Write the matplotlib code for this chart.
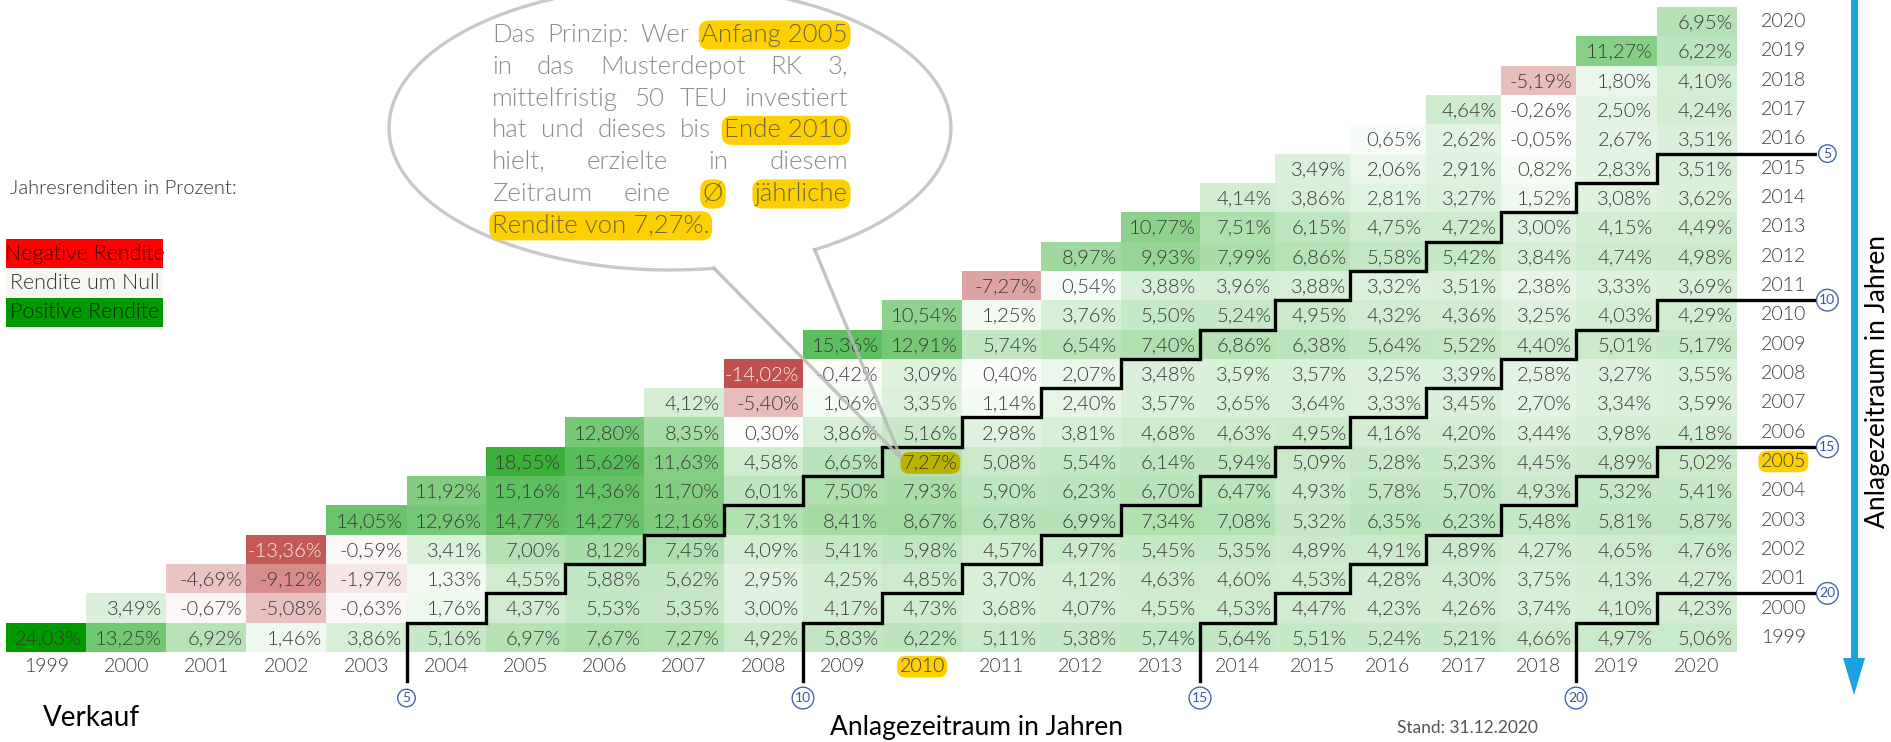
import numpy as np
import matplotlib
matplotlib.use("Agg")
import matplotlib.pyplot as plt
from matplotlib.patches import Rectangle, Polygon

plt.rcParams['font.family'] = ['Lato', 'DejaVu Sans']

# sell years (columns) and buy years (rows)
years = list(range(1999, 2021))

# average yearly return in %, one list per buy year, sell years buy..2020
ret_1999 = [24.03, 13.25, 6.92, 1.46, 3.86, 5.16, 6.97, 7.67, 7.27, 4.92, 5.83, 6.22, 5.11, 5.38, 5.74, 5.64, 5.51, 5.24, 5.21, 4.66, 4.97, 5.06]
ret_2000 = [3.49, -0.67, -5.08, -0.63, 1.76, 4.37, 5.53, 5.35, 3.00, 4.17, 4.73, 3.68, 4.07, 4.55, 4.53, 4.47, 4.23, 4.26, 3.74, 4.10, 4.23]
ret_2001 = [-4.69, -9.12, -1.97, 1.33, 4.55, 5.88, 5.62, 2.95, 4.25, 4.85, 3.70, 4.12, 4.63, 4.60, 4.53, 4.28, 4.30, 3.75, 4.13, 4.27]
ret_2002 = [-13.36, -0.59, 3.41, 7.00, 8.12, 7.45, 4.09, 5.41, 5.98, 4.57, 4.97, 5.45, 5.35, 4.89, 4.91, 4.89, 4.27, 4.65, 4.76]
ret_2003 = [14.05, 12.96, 14.77, 14.27, 12.16, 7.31, 8.41, 8.67, 6.78, 6.99, 7.34, 7.08, 5.32, 6.35, 6.23, 5.48, 5.81, 5.87]
ret_2004 = [11.92, 15.16, 14.36, 11.70, 6.01, 7.50, 7.93, 5.90, 6.23, 6.70, 6.47, 4.93, 5.78, 5.70, 4.93, 5.32, 5.41]
ret_2005 = [18.55, 15.62, 11.63, 4.58, 6.65, 7.27, 5.08, 5.54, 6.14, 5.94, 5.09, 5.28, 5.23, 4.45, 4.89, 5.02]
ret_2006 = [12.80, 8.35, 0.30, 3.86, 5.16, 2.98, 3.81, 4.68, 4.63, 4.95, 4.16, 4.20, 3.44, 3.98, 4.18]
ret_2007 = [4.12, -5.40, 1.06, 3.35, 1.14, 2.40, 3.57, 3.65, 3.64, 3.33, 3.45, 2.70, 3.34, 3.59]
ret_2008 = [-14.02, -0.42, 3.09, 0.40, 2.07, 3.48, 3.59, 3.57, 3.25, 3.39, 2.58, 3.27, 3.55]
ret_2009 = [15.36, 12.91, 5.74, 6.54, 7.40, 6.86, 6.38, 5.64, 5.52, 4.40, 5.01, 5.17]
ret_2010 = [10.54, 1.25, 3.76, 5.50, 5.24, 4.95, 4.32, 4.36, 3.25, 4.03, 4.29]
ret_2011 = [-7.27, 0.54, 3.88, 3.96, 3.88, 3.32, 3.51, 2.38, 3.33, 3.69]
ret_2012 = [8.97, 9.93, 7.99, 6.86, 5.58, 5.42, 3.84, 4.74, 4.98]
ret_2013 = [10.77, 7.51, 6.15, 4.75, 4.72, 3.00, 4.15, 4.49]
ret_2014 = [4.14, 3.86, 2.81, 3.27, 1.52, 3.08, 3.62]
ret_2015 = [3.49, 2.06, 2.91, 0.82, 2.83, 3.51]
ret_2016 = [0.65, 2.62, -0.05, 2.67, 3.51]
ret_2017 = [4.64, -0.26, 2.50, 4.24]
ret_2018 = [-5.19, 1.80, 4.10]
ret_2019 = [11.27, 6.22]
ret_2020 = [6.95]

rows = [ret_1999, ret_2000, ret_2001, ret_2002, ret_2003, ret_2004, ret_2005, ret_2006,
        ret_2007, ret_2008, ret_2009, ret_2010, ret_2011, ret_2012, ret_2013, ret_2014,
        ret_2015, ret_2016, ret_2017, ret_2018, ret_2019, ret_2020]

periods = [5, 10, 15, 20]
example_buy, example_sell = 2005, 2010

W, H = 1891, 742
fig = plt.figure(figsize=(W / 100, H / 100), dpi=100)
fig.patch.set_facecolor('white')

# grid axes in year units; the spreadsheet columns are not all equally wide
gx0, gx1, gy0, gy1 = 6, 1737, 7, 652
ax = fig.add_axes([gx0 / W, 1 - gy1 / H, (gx1 - gx0) / W, (gy1 - gy0) / H])
edge_yr = np.array([1994.5, 1998.5, 2003.5, 2008.5, 2013.5, 2018.5, 2020.5, 2024.5])
edge_px = np.array([-314.0, 6, 406.5, 803, 1200, 1576, 1737, 2057])


def fwd(x):
    return np.interp(x, edge_yr, edge_px)


def inv(p):
    return np.interp(p, edge_px, edge_yr)


ax.set_xscale('function', functions=(fwd, inv))
ax.set_xlim(years[0] - 0.5, years[-1] + 0.5)
ax.set_ylim(years[0] - 0.5, years[-1] + 0.5)
ax.axis('off')

vmax = max(max(r) for r in rows)
vmin = min(min(r) for r in rows)
white = np.array([255, 255, 255]) / 255
green = np.array([0, 153, 0]) / 255
red = np.array([192, 80, 77]) / 255


def cell_color(v):
    if v >= 0:
        f = v / vmax
        return white * (1 - f) + green * f
    f = v / vmin
    return white * (1 - f) + red * f


txt_col = '#383838'
for buy, vals in zip(years, rows):
    for k, v in enumerate(vals):
        sell = buy + k
        ax.add_patch(Rectangle((sell - 0.5, buy - 0.5), 1, 1, fc=cell_color(v), ec='none', lw=0))
        s = ('%.2f%%' % v).replace('.', ',')
        kw = {}
        if buy == example_buy and sell == example_sell:
            kw['bbox'] = dict(boxstyle='round,pad=0.12,rounding_size=0.45', fc='#b9b300', ec='none')
        ax.text(sell + 0.45, buy, s, ha='right', va='center_baseline', fontsize=14.5, fontweight=300,
                color='#f4f4f4' if v < -10 else txt_col, **kw)

# year labels
for y in years:
    kw = {}
    if y == example_sell:
        kw['bbox'] = dict(boxstyle='round,pad=0.12,rounding_size=0.45', fc='#ffd000', ec='none')
    ax.text(y, years[0] - 1.0, str(y), ha='center', va='center', fontsize=14, fontweight=300,
            color='#3c3c3c', clip_on=False, **kw)
for y in years:
    kw = {}
    if y == example_buy:
        kw['bbox'] = dict(boxstyle='round,pad=0.12,rounding_size=0.45', fc='#ffd000', ec='none')
    ax.text(years[-1] + 1.08, y, str(y), ha='center', va='center', fontsize=14, fontweight=300,
            color='#3c3c3c', clip_on=False, **kw)

# staircase lines for holding periods
circ = dict(boxstyle='circle,pad=0.2', fc='white', ec='#4565b0', lw=1.0)
for n in periods:
    xs = [years[0] + n - 0.5]
    ys = [years[0] - 1.5]
    for b in range(years[0], years[-1] - n + 1):
        xs += [b + n - 0.5, b + n + 0.5]
        ys += [b + 0.5, b + 0.5]
    xs[-1] = years[-1] + 1.48
    ax.plot(xs, ys, color='black', lw=2.4, clip_on=False, solid_joinstyle='miter')
    ax.text(years[0] + n - 0.5, years[0] - 2.07, str(n), ha='center', va='center', fontsize=10,
            color='#3a55a5', bbox=circ, clip_on=False)
    ax.text(years[-1] + 1.63, years[-1] - n + 0.5, str(n), ha='center', va='center', fontsize=10,
            color='#3a55a5', bbox=circ, clip_on=False)

# overlay in pixel units for the annotations
ov = fig.add_axes([0, 0, 1, 1])
ov.set_xlim(0, W)
ov.set_ylim(H, 0)
ov.axis('off')

# legend
ov.text(10, 189, 'Jahresrenditen in Prozent:', ha='left', va='center', fontsize=14.5, fontweight=300,
        color='#333333')
legend_items = [('Negative Rendite', '#ff0000', '#3a0000'),
                ('Rendite um Null', '#f4f8f1', '#333333'),
                ('Positive Rendite', '#009900', '#062806')]
for i, (lab, fc, tc) in enumerate(legend_items):
    top = 239 + i * 29.5
    ov.add_patch(Rectangle((6, top), 157, 28.5, fc=fc, ec='none'))
    ov.text(84.5, top + 14.5, lab, ha='center', va='center', fontsize=15.5, fontweight=300, color=tc)

# speech bubble
cx, cy, a, b = 670, 128, 281, 142
t = np.radians(np.linspace(-59, 279, 400))
ov.plot(cx + a * np.cos(t), cy - b * np.sin(t), color='#c8c8c8', lw=2.4)
base_l = (cx + a * np.cos(np.radians(279)), cy - b * np.sin(np.radians(279)))
base_r = (cx + a * np.cos(np.radians(-59)), cy - b * np.sin(np.radians(-59)))
tip = (901, 458)
ov.plot([base_l[0], tip[0], base_r[0]], [base_l[1], tip[1], base_r[1]], color='#b8b8b8', lw=2.4,
        alpha=0.85, solid_joinstyle='miter')

hl = dict(boxstyle='round,pad=0.1,rounding_size=0.4', fc='#ffd000', ec='none')
bubble_lines = [
    [('Das', 0), ('Prinzip:', 0), ('Wer', 0), ('Anfang 2005', 1)],
    [('in', 0), ('das', 0), ('Musterdepot', 0), ('RK', 0), ('3,', 0)],
    [('mittelfristig', 0), ('50', 0), ('TEU', 0), ('investiert', 0)],
    [('hat', 0), ('und', 0), ('dieses', 0), ('bis', 0), ('Ende 2010', 1)],
    [('hielt,', 0), ('erzielte', 0), ('in', 0), ('diesem', 0)],
    [('Zeitraum', 0), ('eine', 0), ('Ø', 1), ('jährliche', 1)],
    [('Rendite von 7,27%.', 1)],
]
bx0, bx1 = 492, 848
renderer = fig.canvas.get_renderer()
for i, words in enumerate(bubble_lines):
    base = 42 + i * 31.8
    objs = []
    for w, h in words:
        objs.append(ov.text(0, base, w, ha='left', va='baseline', fontsize=18.5, fontweight=300,
                            color='#6f663c' if h else '#8c8c8c', bbox=hl if h else None))
    widths = [o.get_window_extent(renderer).width for o in objs]
    if len(objs) > 1 and i < len(bubble_lines) - 1:
        gap = (bx1 - bx0 - sum(widths)) / (len(objs) - 1)
    else:
        gap = 6
    x = bx0
    for o, wd in zip(objs, widths):
        o.set_x(x)
        x += wd + gap

# axis titles
ov.text(43, 718, 'Verkauf', ha='left', va='center', fontsize=20, color='black')
ov.text(977, 728, 'Anlagezeitraum in Jahren', ha='center', va='center', fontsize=19, color='black')
ov.text(1467, 728, 'Stand: 31.12.2020', ha='center', va='center', fontsize=12.5, color='#555555')
ov.text(1878, 382, 'Anlagezeitraum in Jahren', ha='center', va='center', fontsize=19, color='black',
        rotation=90)

# blue arrow
ov.plot([1854, 1854], [-5, 662], color='#1aa3de', lw=5, solid_capstyle='butt')
ov.add_patch(Polygon([(1843, 658), (1865, 658), (1854, 695)], closed=True, fc='#1aa3de', ec='none'))

fig.savefig('out.png', dpi=100, facecolor='white')
